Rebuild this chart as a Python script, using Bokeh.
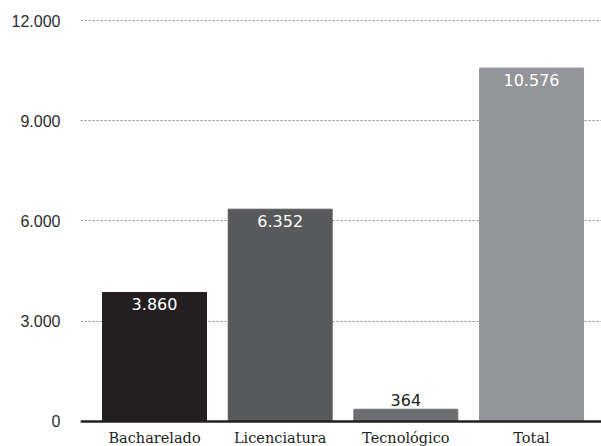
from bokeh.plotting import figure
from bokeh.models import ColumnDataSource, FixedTicker, Range1d, LabelSet, Span
from bokeh.core.properties import value
from bokeh.embed import file_html
from bokeh.resources import INLINE

categories = ["Bacharelado", "Licenciatura", "Tecnológico", "Total"]
values = [3860, 6352, 364, 10576]
value_labels = ["3.860", "6.352", "364", "10.576"]
bar_colors = ["#231f20", "#58595b", "#6d6e71", "#939598"]
y_ticks = [0, 3000, 6000, 9000, 12000]
y_tick_labels = ["0", "3.000", "6.000", "9.000", "12.000"]

xs = list(range(len(categories)))
inside = [v > 1000 for v in values]
src = ColumnDataSource(dict(x=xs, top=values, color=bar_colors))
in_src = ColumnDataSource(dict(
    x=[x for x, i in zip(xs, inside) if i],
    y=[v for v, i in zip(values, inside) if i],
    lab=[l for l, i in zip(value_labels, inside) if i],
))
out_src = ColumnDataSource(dict(
    x=[x for x, i in zip(xs, inside) if not i],
    y=[v for v, i in zip(values, inside) if not i],
    lab=[l for l, i in zip(value_labels, inside) if not i],
))
cat_src = ColumnDataSource(dict(x=xs, y=[0] * len(xs), lab=categories))

# frame runs from y=19 px (12030) to the canvas bottom (446 px, -750)
p = figure(width=601, height=446, output_backend="svg", toolbar_location=None,
           x_range=Range1d(-0.589, 3.557), y_range=Range1d(-750, 12030),
           min_border_left=80, min_border_top=19, min_border_right=0,
           min_border_bottom=0)
p.outline_line_color = None
p.background_fill_color = "white"
p.border_fill_color = "white"

p.vbar(x="x", top="top", bottom=0, width=0.827, color="color", source=src)

p.add_layout(Span(location=0, dimension="width", line_color="#231f20",
                  line_width=2.5))

p.add_layout(LabelSet(x="x", y="y", text="lab", source=in_src,
                      text_align="center", text_baseline="middle", y_offset=-11.5,
                      text_color="white", text_font=value("DejaVu Sans"),
                      text_font_size="16px"))
p.add_layout(LabelSet(x="x", y="y", text="lab", source=out_src,
                      text_align="center", text_baseline="middle", y_offset=9,
                      text_color="#231f20", text_font=value("DejaVu Sans"),
                      text_font_size="16px"))
p.add_layout(LabelSet(x="x", y="y", text="lab", source=cat_src,
                      text_align="center", text_baseline="middle", y_offset=-17,
                      text_color="#231f20", text_font=value("DejaVu Serif"),
                      text_font_size="14.5px"))

p.xaxis.visible = False

# y axis
p.yaxis.ticker = FixedTicker(ticks=y_ticks)
p.yaxis.major_label_overrides = {t: l for t, l in zip(y_ticks, y_tick_labels)}
p.yaxis.axis_line_color = None
p.yaxis.major_tick_line_color = None
p.yaxis.minor_tick_line_color = None
p.yaxis.major_label_standoff = 14
p.yaxis.major_label_text_font = "Liberation Sans"
p.yaxis.major_label_text_font_size = "16px"
p.yaxis.major_label_text_color = "#2b2b2b"

p.xgrid.grid_line_color = None
p.ygrid.grid_line_color = "#8a8a8a"
p.ygrid.grid_line_dash = "2 2"
p.ygrid.grid_line_width = 1

open("out.html", "w").write(file_html(p, INLINE))
